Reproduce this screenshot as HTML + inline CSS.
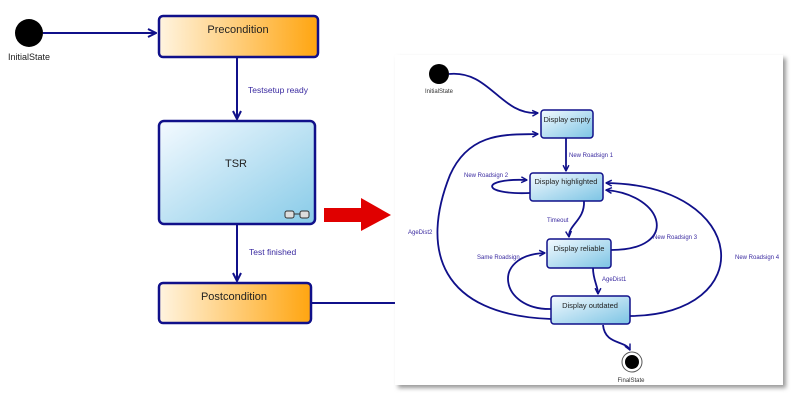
<!DOCTYPE html>
<html><head><meta charset="utf-8"><style>
html,body{margin:0;padding:0;background:#fff;}
svg{display:block;font-family:"Liberation Sans","DejaVu Sans",sans-serif;}
</style></head><body>
<svg width="800" height="400" viewBox="0 0 800 400" xmlns="http://www.w3.org/2000/svg">
<defs>
<linearGradient id="og" x1="0" y1="0" x2="1" y2="0">
<stop offset="0" stop-color="#fff4e0"/><stop offset="1" stop-color="#ffa510"/></linearGradient>
<linearGradient id="bg" x1="0" y1="0" x2="1" y2="1">
<stop offset="0" stop-color="#f4faff"/><stop offset="1" stop-color="#88cbe8"/></linearGradient>
<linearGradient id="bg2" x1="0" y1="0" x2="1" y2="1">
<stop offset="0" stop-color="#f4faff"/><stop offset="1" stop-color="#7cc4e4"/></linearGradient>
<marker id="ar" viewBox="0 0 10 10" refX="9" refY="5" markerWidth="5" markerHeight="5" orient="auto"><path d="M1,1 L9,5 L1,9" fill="none" stroke="#10108a" stroke-width="2"/></marker>
<marker id="ar2" viewBox="0 0 10 10" refX="9" refY="5" markerWidth="4" markerHeight="4" orient="auto"><path d="M1,1 L9,5 L1,9" fill="none" stroke="#10108a" stroke-width="2"/></marker>
<filter id="sh" x="-5%" y="-5%" width="110%" height="110%"><feGaussianBlur stdDeviation="2"/></filter>
</defs>
<!-- left diagram -->
<circle cx="29" cy="33" r="14" fill="#000"/>
<text x="29" y="60" font-size="9" text-anchor="middle" fill="#202020">InitialState</text>
<line x1="43" y1="33" x2="156" y2="33" stroke="#10108a" stroke-width="2" marker-end="url(#ar)"/>
<rect x="159" y="16" width="159" height="41" rx="4" fill="url(#og)" stroke="#10108a" stroke-width="2.5"/>
<text x="238" y="33" font-size="11" text-anchor="middle" fill="#222">Precondition</text>
<line x1="237" y1="58" x2="237" y2="119" stroke="#10108a" stroke-width="2" marker-end="url(#ar)"/>
<text x="248" y="93" font-size="8.5" fill="#3a2aa0">Testsetup ready</text>
<rect x="159" y="121" width="156" height="103" rx="5" fill="url(#bg)" stroke="#10108a" stroke-width="2.5"/>
<text x="236" y="167" font-size="11" text-anchor="middle" fill="#222">TSR</text>
<g fill="#ddd" stroke="#333" stroke-width="1"><rect x="285" y="211" width="9" height="7" rx="2"/><rect x="300" y="211" width="9" height="7" rx="2"/><line x1="294" y1="214" x2="300" y2="214"/></g>
<line x1="237" y1="225" x2="237" y2="281" stroke="#10108a" stroke-width="2" marker-end="url(#ar)"/>
<text x="249" y="255" font-size="8.5" fill="#3a2aa0">Test finished</text>
<rect x="159" y="283" width="152" height="40" rx="4" fill="url(#og)" stroke="#10108a" stroke-width="2.5"/>
<text x="234" y="300" font-size="11" text-anchor="middle" fill="#222">Postcondition</text>
<line x1="312" y1="303" x2="398" y2="303" stroke="#10108a" stroke-width="2"/>
<polygon points="324,208 361,208 361,198 391,215 361,231 361,222 324,222" fill="#e00000"/>
<!-- right panel -->
<rect x="398" y="58" width="388" height="330" fill="#999" filter="url(#sh)"/>
<rect x="395" y="55" width="388" height="330" fill="#fff"/>
<circle cx="439" cy="74" r="10" fill="#000"/>
<text x="439" y="93" font-size="6" text-anchor="middle" fill="#333">InitialState</text>
<g fill="none" stroke="#10108a" stroke-width="1.8">
<path d="M449,74 C490,70 500,115 538,113" marker-end="url(#ar2)"/>
<path d="M566,138 L566,171" marker-end="url(#ar2)"/>
<path d="M530,193 C480,195 480,178 527,180" marker-end="url(#ar2)"/>
<path d="M584,201 C585,220 568,225 569,237" marker-end="url(#ar2)"/>
<path d="M611,250 C680,250 665,195 606,190" marker-end="url(#ar2)"/>
<path d="M593,268 C593,280 598,286 598,294" marker-end="url(#ar2)"/>
<path d="M551,309 C500,310 490,255 545,253" marker-end="url(#ar2)"/>
<path d="M551,319 C440,315 420,250 450,175 C470,130 510,135 538,134" marker-end="url(#ar2)"/>
<path d="M630,316 C760,315 750,185 606,183" marker-end="url(#ar2)"/>
<path d="M603,325 C605,345 625,340 630,350" marker-end="url(#ar2)"/>
</g>
<g stroke="#10108a" stroke-width="1.5">
<rect x="541" y="110" width="52" height="28" rx="3" fill="url(#bg2)"/>
<rect x="530" y="173" width="73" height="28" rx="3" fill="url(#bg2)"/>
<rect x="547" y="239" width="64" height="29" rx="3" fill="url(#bg2)"/>
<rect x="551" y="296" width="79" height="28" rx="3" fill="url(#bg2)"/>
</g>
<g font-size="7.5" fill="#222" text-anchor="middle">
<text x="567" y="122">Display empty</text>
<text x="566" y="184">Display highlighted</text>
<text x="579" y="251">Display reliable</text>
<text x="590" y="308">Display outdated</text>
</g>
<circle cx="632" cy="362" r="10" fill="#fff" stroke="#555" stroke-width="1"/>
<circle cx="632" cy="362" r="7" fill="#000"/>
<text x="631" y="382" font-size="6" text-anchor="middle" fill="#333">FinalState</text>
<g font-size="6" fill="#3a2aa0">
<text x="569" y="157">New Roadsign 1</text>
<text x="464" y="177">New Roadsign 2</text>
<text x="547" y="222">Timeout</text>
<text x="653" y="239">New Roadsign 3</text>
<text x="477" y="259">Same Roadsign</text>
<text x="602" y="281">AgeDist1</text>
<text x="408" y="234">AgeDist2</text>
<text x="735" y="259">New Roadsign 4</text>
</g>
</svg>
</body></html>
